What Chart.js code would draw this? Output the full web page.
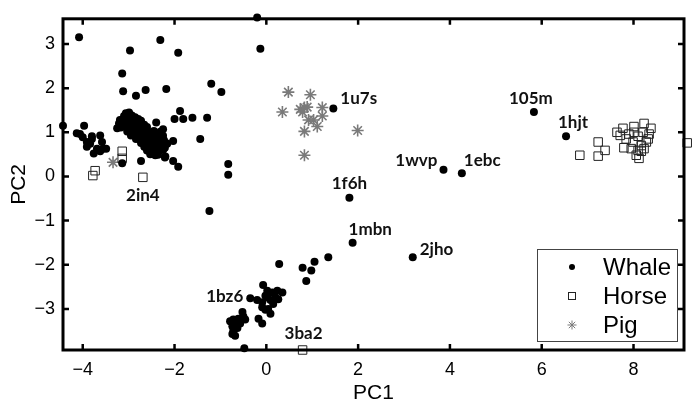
<!DOCTYPE html>
<html>
<head>
<meta charset="utf-8">
<script src="https://cdn.jsdelivr.net/npm/chart.js@4/dist/chart.umd.min.js"></script>
<style>
  body { margin: 0; background: #fff; }
  #wrap { width: 692px; height: 406px; }
</style>
</head>
<body>
<div id="wrap"><canvas id="pcaChart" width="692" height="406"></canvas></div>
<script>
// Données (PC1, PC2)
const xTicks = [-4, -2, 0, 2, 4, 6, 8];
const yTicks = [-3, -2, -1, 0, 1, 2, 3];

const whalePoints = [
  // points isolés en haut / à gauche
  [-4.08, 3.15], [-0.2, 3.6], [-0.13, 2.89], [-2.97, 2.85], [-2.31, 3.09], [-1.92, 2.8],
  [-3.14, 2.33], [-3.12, 1.93], [-2.84, 1.83], [-2.63, 1.96], [-2.18, 1.98], [-1.2, 2.1],
  [-0.98, 1.91], [-4.43, 1.15], [-1.61, 1.33], [-1.29, 1.33], [-1.88, 1.48], [-2.0, 1.3],
  [-1.81, 1.3], [-1.44, 0.85], [-2.03, 0.8], [-2.03, 0.35], [-1.92, 0.22], [-0.83, 0.28],
  [-0.83, 0.04], [-2.73, 0.35], [-3.14, 0.3], [-1.24, -0.78], [-2.21, 0.43], [-2.4, 1.22],
  // petit groupe de gauche
  [-4.13, 0.98], [-4.06, 0.96], [-3.97, 1.15], [-4.0, 0.89], [-3.91, 0.78], [-3.8, 0.85],
  [-3.76, 0.52], [-3.69, 0.63], [-3.62, 0.93], [-3.58, 0.78], [-3.62, 0.57], [-3.56, 0.63],
  [-3.49, 0.63], [-3.91, 0.67], [-3.84, 0.74], [-3.8, 0.91],
  // groupe principal
  [-3.06, 1.43], [-2.99, 1.45], [-3.1, 1.37], [-3.01, 1.35], [-2.93, 1.38], [-2.86, 1.34],
  [-3.19, 1.28], [-3.12, 1.3], [-3.03, 1.26], [-2.95, 1.29], [-2.88, 1.27], [-2.79, 1.3], [-2.73, 1.26],
  [-3.21, 1.2], [-3.14, 1.18], [-3.06, 1.21], [-2.97, 1.19], [-2.88, 1.22], [-2.82, 1.18], [-2.75, 1.2], [-2.66, 1.17],
  [-3.17, 1.11], [-3.08, 1.13], [-2.99, 1.1], [-2.9, 1.12], [-2.84, 1.09], [-2.75, 1.12], [-2.69, 1.1], [-2.6, 1.12],
  [-3.03, 1.02], [-2.95, 1.04], [-2.86, 1.0], [-2.77, 1.03], [-2.71, 1.01], [-2.62, 1.04], [-2.53, 1.0], [-2.45, 1.03], [-2.31, 1.01],
  [-2.95, 0.93], [-2.86, 0.95], [-2.77, 0.92], [-2.69, 0.94], [-2.6, 0.91], [-2.51, 0.94], [-2.42, 0.92], [-2.36, 0.95], [-2.25, 0.92],
  [-2.84, 0.85], [-2.75, 0.83], [-2.66, 0.86], [-2.58, 0.84], [-2.49, 0.86], [-2.4, 0.83], [-2.31, 0.85], [-2.23, 0.82],
  [-2.73, 0.76], [-2.64, 0.78], [-2.55, 0.75], [-2.47, 0.77], [-2.38, 0.74], [-2.29, 0.77], [-2.18, 0.75],
  [-2.66, 0.67], [-2.58, 0.65], [-2.49, 0.68], [-2.4, 0.66], [-2.31, 0.68], [-2.21, 0.65],
  [-2.6, 0.59], [-2.51, 0.57], [-2.42, 0.6], [-2.34, 0.58], [-2.25, 0.6],
  [-2.53, 0.5], [-2.45, 0.52], [-2.36, 0.49],
  [-3.25, 1.09], [-3.14, 1.21], [-3.0, 1.43], [-2.25, 1.07], [-2.16, 0.74], [-2.2, 0.45], [-2.42, 0.48],
  // points étiquetés et chaîne vers le bas
  [1.46, 1.54], [1.81, -0.48], [3.86, 0.15], [4.26, 0.07], [5.83, 1.46], [6.53, 0.91],
  [1.88, -1.5], [3.19, -1.83],
  [0.28, -1.98], [0.79, -2.07], [0.98, -2.13], [1.05, -1.93], [1.35, -1.83], [0.87, -2.37],
  // groupe du bas (1bz6)
  [-0.07, -2.46], [-0.35, -2.76], [-0.2, -2.8], [-0.09, -2.85], [0.02, -2.74], [0.13, -2.63],
  [0.24, -2.59], [0.35, -2.63], [0.26, -2.78], [0.15, -2.89], [0.04, -3.0], [-0.02, -3.02],
  [0.09, -3.11], [-0.09, -2.96], [-0.17, -3.22], [-0.09, -3.33], [-0.02, -2.7], [0.09, -2.8],
  [0.2, -2.74], [0.02, -2.59],
  [-0.52, -3.07], [-0.5, -3.17], [-0.61, -3.22], [-0.72, -3.24], [-0.79, -3.28], [-0.68, -3.35],
  [-0.74, -3.39], [-0.63, -3.43], [-0.72, -3.5], [-0.74, -3.57], [-0.68, -3.61], [-0.57, -3.33],
  [-0.46, -3.24], [-0.72, -3.33], [-0.48, -3.89]
];

const horsePoints = [
  [-3.78, 0.02], [-3.73, 0.13], [-3.14, 0.57], [-3.14, 0.41], [-2.69, -0.02], [0.79, -3.93],
  [6.83, 0.48], [7.23, 0.78], [7.38, 0.59], [7.23, 0.46],
  [7.64, 1.0], [7.77, 1.09], [8.01, 1.13], [8.23, 1.2], [8.38, 1.09], [7.84, 0.85], [7.79, 0.65],
  [7.99, 0.78], [8.1, 0.91], [8.17, 0.7], [8.06, 0.48], [8.12, 0.41], [8.23, 0.63], [8.32, 0.85],
  [8.01, 1.0], [7.9, 0.96], [8.21, 1.0], [8.28, 0.78], [8.17, 0.57], [8.1, 0.59], [7.95, 0.63],
  [7.71, 0.93], [8.34, 0.96], [9.17, 0.76]
];

const pigPoints = [
  [-3.34, 0.32], [0.48, 1.91], [0.96, 1.85], [0.35, 1.46], [0.74, 1.52], [0.83, 1.56],
  [0.89, 1.57], [1.22, 1.56], [0.92, 1.28], [1.03, 1.28], [1.22, 1.37], [1.11, 1.13],
  [0.83, 1.02], [0.83, 0.48], [1.99, 1.04], [0.79, 1.46]
];

// Étiquettes : nom, point d'ancrage
const labelNames = ['2in4', '1u7s', '1f6h', '1wvp', '1ebc', '105m', '1hjt', '1mbn', '2jho', '1bz6', '3ba2'];
const labelX = [-2.69, 1.46, 1.81, 3.86, 4.26, 5.83, 6.53, 1.88, 3.19, -0.35, 0.79];
const labelY = [-0.02, 1.54, -0.48, 0.15, 0.07, 1.46, 0.91, -1.5, -1.83, -2.76, -3.93];

// Décalages en pixels des étiquettes par rapport aux points
const labelStyle = [
  { dx: 0, dy: 18, align: 'center' },
  { dx: 7, dy: -10, align: 'left' },
  { dx: 0, dy: -14, align: 'center' },
  { dx: -6, dy: -9, align: 'right' },
  { dx: 2, dy: -13, align: 'left' },
  { dx: -3, dy: -13, align: 'center' },
  { dx: 7, dy: -14, align: 'center' },
  { dx: -4, dy: -13, align: 'left' },
  { dx: 7, dy: -8, align: 'left' },
  { dx: -7, dy: -2, align: 'right' },
  { dx: 1, dy: -16, align: 'center' }
];

const AXIS_FONT = 'Liberation Sans, Arial, Helvetica, sans-serif';
const PIG_GREY = '#7a7a7a';

function toXY(list) {
  return list.map(function(p) { return { x: p[0], y: p[1] }; });
}

function minusLabel(v) {
  return v < 0 ? '\u2212' + Math.abs(v) : String(v);
}

// Cadre noir avec graduations vers l'intérieur sur les quatre côtés
const framePlugin = {
  id: 'frame',
  afterDatasetsDraw(chart) {
    const ctx = chart.ctx;
    const a = chart.chartArea;
    const xs = chart.scales.x;
    const ys = chart.scales.y;
    ctx.save();
    ctx.strokeStyle = '#000';
    ctx.lineWidth = 2.5;
    ctx.beginPath();
    xTicks.forEach(function(v) {
      const px = xs.getPixelForValue(v);
      ctx.moveTo(px, a.bottom); ctx.lineTo(px, a.bottom - 6);
      ctx.moveTo(px, a.top); ctx.lineTo(px, a.top + 6);
    });
    yTicks.forEach(function(v) {
      const py = ys.getPixelForValue(v);
      ctx.moveTo(a.left, py); ctx.lineTo(a.left + 6, py);
      ctx.moveTo(a.right, py); ctx.lineTo(a.right - 6, py);
    });
    ctx.stroke();
    ctx.lineWidth = 3;
    ctx.strokeRect(a.left, a.top, a.right - a.left, a.bottom - a.top);
    ctx.restore();
  }
};

// Noms des structures à côté des points
const labelPlugin = {
  id: 'pointLabels',
  afterDatasetsDraw(chart) {
    const ctx = chart.ctx;
    const xs = chart.scales.x;
    const ys = chart.scales.y;
    ctx.save();
    ctx.font = 'bold 17px Lato, "Open Sans", sans-serif';
    ctx.fillStyle = '#111';
    ctx.textBaseline = 'middle';
    labelNames.forEach(function(name, i) {
      const s = labelStyle[i];
      ctx.textAlign = s.align;
      ctx.fillText(name, xs.getPixelForValue(labelX[i]) + s.dx, ys.getPixelForValue(labelY[i]) + s.dy);
    });
    ctx.restore();
  }
};

// Légende encadrée en bas à droite
const legendPlugin = {
  id: 'boxLegend',
  afterDraw(chart) {
    const ctx = chart.ctx;
    const box = { x: 537, y: 249, w: 140, h: 92 };
    ctx.save();
    ctx.fillStyle = '#fff';
    ctx.fillRect(box.x, box.y, box.w, box.h);
    ctx.strokeStyle = '#444';
    ctx.lineWidth = 1;
    ctx.strokeRect(box.x + 0.5, box.y + 0.5, box.w, box.h);

    const mx = 572;
    const rows = [267, 296, 325];
    // Whale
    ctx.fillStyle = '#000';
    ctx.beginPath();
    ctx.arc(mx, rows[0], 3, 0, Math.PI * 2);
    ctx.fill();
    // Horse
    ctx.strokeStyle = '#222';
    ctx.strokeRect(mx - 3.5, rows[1] - 3.5, 7, 7);
    // Pig
    ctx.strokeStyle = PIG_GREY;
    ctx.beginPath();
    const r = 4.5;
    for (let k = 0; k < 4; k++) {
      const ang = k * Math.PI / 4;
      ctx.moveTo(mx - r * Math.cos(ang), rows[2] - r * Math.sin(ang));
      ctx.lineTo(mx + r * Math.cos(ang), rows[2] + r * Math.sin(ang));
    }
    ctx.stroke();

    ctx.fillStyle = '#000';
    ctx.font = '24px ' + AXIS_FONT;
    ctx.textAlign = 'left';
    ctx.textBaseline = 'middle';
    ['Whale', 'Horse', 'Pig'].forEach(function(t, i) {
      ctx.fillText(t, 603, rows[i] + 1);
    });
    ctx.restore();
  }
};

document.addEventListener('DOMContentLoaded', function() {
  const canvas = document.getElementById('pcaChart');
  new Chart(canvas, {
    type: 'scatter',
    data: {
      datasets: [
        {
          label: 'Whale',
          data: toXY(whalePoints),
          pointStyle: 'circle',
          pointRadius: 4,
          backgroundColor: '#000',
          borderColor: '#000',
          borderWidth: 0,
          clip: 8
        },
        {
          label: 'Horse',
          data: toXY(horsePoints),
          pointStyle: 'rect',
          pointRadius: 6,
          backgroundColor: 'rgba(255,255,255,0)',
          borderColor: '#222',
          borderWidth: 1,
          clip: 8
        },
        {
          label: 'Pig',
          data: toXY(pigPoints),
          pointStyle: 'star',
          pointRadius: 6,
          backgroundColor: PIG_GREY,
          borderColor: PIG_GREY,
          borderWidth: 1.6,
          clip: 8
        }
      ]
    },
    options: {
      responsive: false,
      animation: false,
      events: [],
      layout: { padding: { top: 5, right: 8, left: 0, bottom: 0 } },
      plugins: {
        legend: { display: false },
        tooltip: { enabled: false }
      },
      scales: {
        x: {
          type: 'linear',
          min: -4.43,
          max: 9.1,
          afterBuildTicks: function(scale) {
            scale.ticks = xTicks.map(function(v) { return { value: v }; });
          },
          afterFit: function(scale) { scale.height = 56; },
          grid: { display: false, drawTicks: false },
          border: { display: false },
          ticks: {
            color: '#000',
            padding: 9,
            maxRotation: 0,
            font: { family: AXIS_FONT, size: 18 },
            callback: minusLabel
          },
          title: {
            display: true,
            text: 'PC1',
            color: '#000',
            padding: { top: 0, bottom: 0 },
            font: { family: AXIS_FONT, size: 21 }
          }
        },
        y: {
          type: 'linear',
          min: -3.93,
          max: 3.57,
          afterBuildTicks: function(scale) {
            scale.ticks = yTicks.map(function(v) { return { value: v }; });
          },
          afterFit: function(scale) { scale.width = 63; },
          grid: { display: false, drawTicks: false },
          border: { display: false },
          ticks: {
            color: '#000',
            padding: 8,
            font: { family: AXIS_FONT, size: 18 },
            callback: minusLabel
          },
          title: {
            display: true,
            text: 'PC2',
            color: '#000',
            padding: { top: 7, bottom: 0 },
            font: { family: AXIS_FONT, size: 21 }
          }
        }
      }
    },
    plugins: [framePlugin, labelPlugin, legendPlugin]
  });
});
</script>
</body>
</html>
